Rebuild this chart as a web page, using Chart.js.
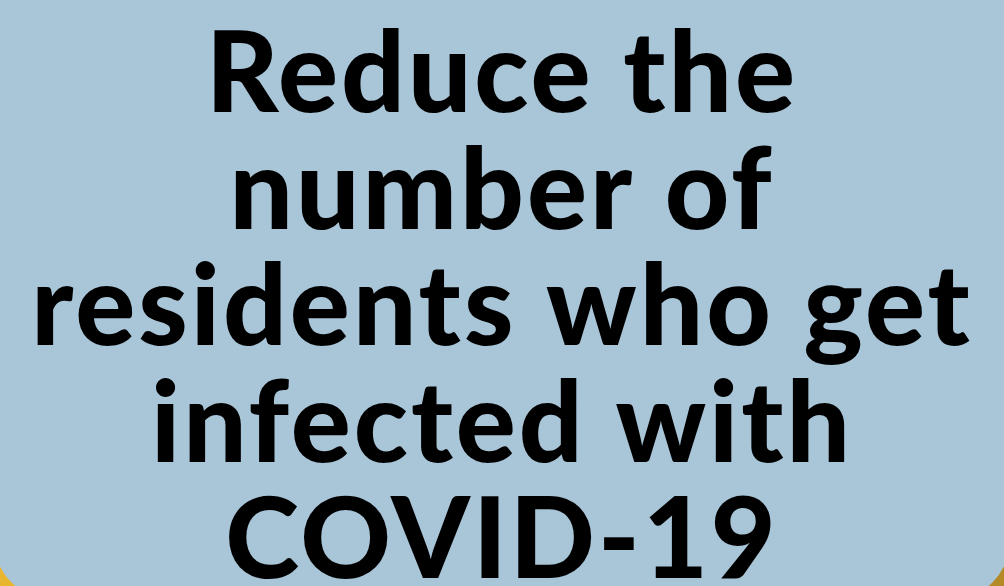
<!DOCTYPE html>
<html>
<head>
<meta charset="utf-8">
<script src="https://cdn.jsdelivr.net/npm/chart.js@4"></script>
<style>
  html, body { margin: 0; padding: 0; background: #a9c5d8; }
  #wrap { width: 1004px; height: 586px; }
</style>
</head>
<body>
<div id="wrap"><canvas id="chart"></canvas></div>
<script>
// text of the poster, one entry per line
const titleLines = ['Reduce the', 'number of', 'residents who get', 'infected with', 'COVID-19'];
const categories = [''];
const values = [0];

// background: yellow card behind, blue panel with rounded bottom corners
const backdrop = {
    id: 'backdrop',
    beforeDraw(chart) {
        const { ctx, width, height } = chart;
        ctx.save();
        const g = ctx.createLinearGradient(0, 0, width, 0);
        g.addColorStop(0, '#e9b62f');
        g.addColorStop(1, '#b48a26');
        ctx.fillStyle = g;
        ctx.fillRect(0, 0, width, height);
        ctx.fillStyle = '#a9c5d8';
        ctx.beginPath();
        ctx.roundRect(-6, -200, width + 12, height + 214, 60);
        ctx.fill();
        ctx.restore();
        // the poster lettering is a little wider than Lato, spread it out
        ctx.letterSpacing = '3px';
    }
};

new Chart(document.getElementById('chart'), {
    type: 'bar',
    data: {
        labels: categories,
        datasets: [{ data: values, backgroundColor: 'transparent' }],
    },
    options: {
        responsive: true,
        maintainAspectRatio: false,
        animation: false,
        layout: { padding: 0 },
        plugins: {
            legend: { display: false },
            tooltip: { enabled: false },
            title: {
                display: true,
                text: titleLines,
                color: '#000',
                font: { family: 'Lato', size: 112, weight: '900', lineHeight: 1.04 },
                padding: { top: 18, bottom: 0 },
            },
        },
        scales: {
            x: { display: false },
            y: { display: false },
        },
    },
    plugins: [backdrop],
});
</script>
</body>
</html>
